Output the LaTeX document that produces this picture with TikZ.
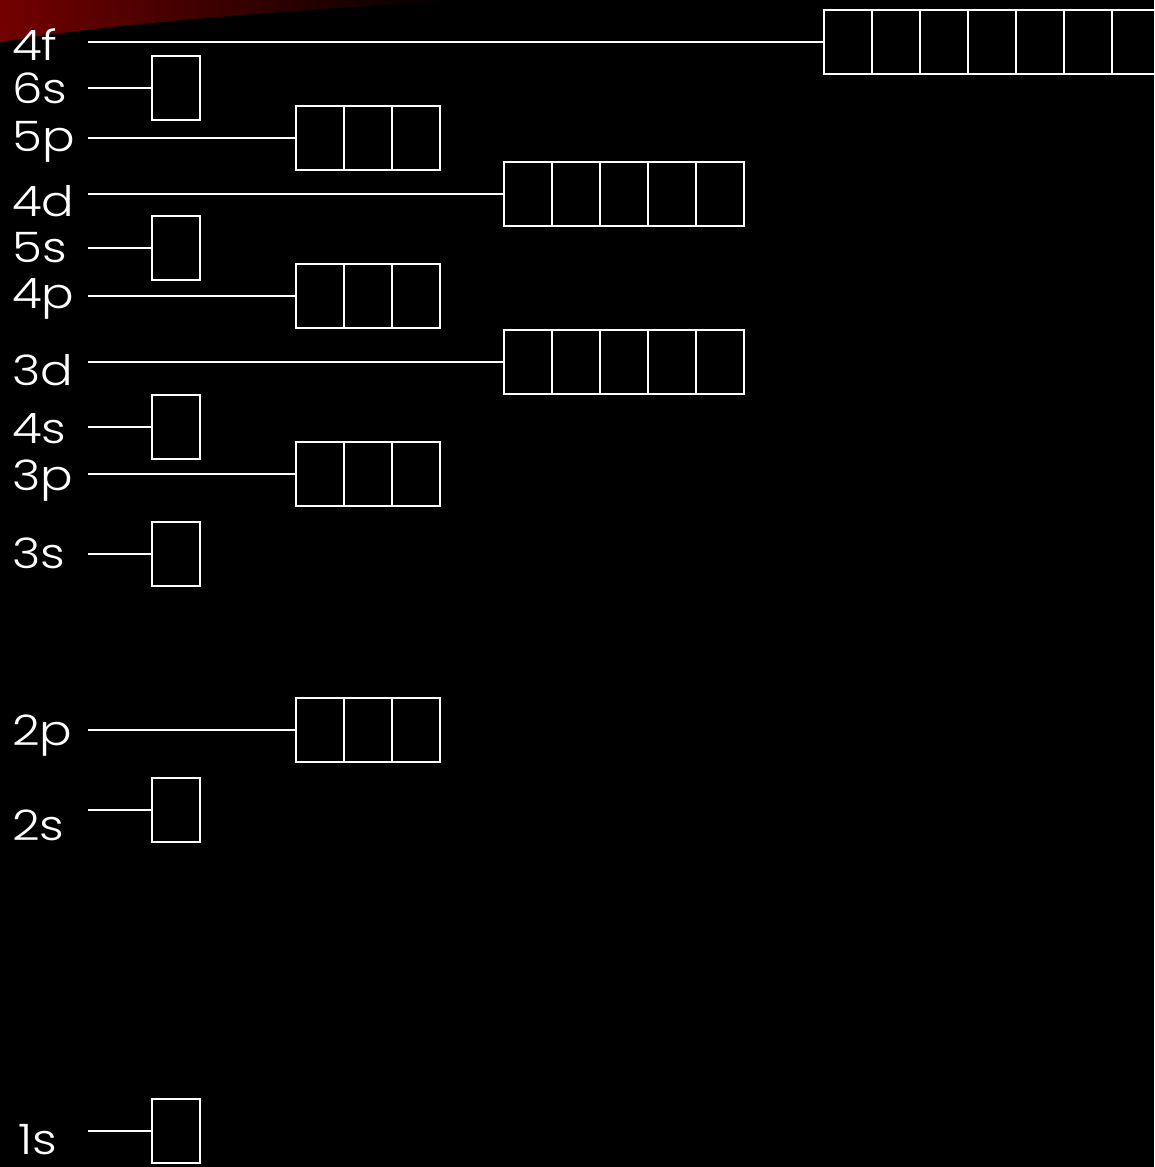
\documentclass[tikz,border=0pt]{standalone}
\usepackage{fontspec}
\setmainfont{Poppins}[UprightFont=* Light, FakeStretch=1.15]
\begin{document}
\begin{tikzpicture}[x=1pt,y=-1pt,
  orb/.style={draw=white,line width=2.5pt,minimum width=48pt,minimum height=64pt,inner sep=0pt,outer sep=0pt,anchor=west},
  ln/.style={draw=white,line width=2.5pt},
  lbl/.style={text=white,anchor=base west,inner sep=0pt,font=\fontsize{42}{42}\selectfont}]
\useasboundingbox (0,0) rectangle (1154,1167);
\fill[black] (0,0) rectangle (1154,1167);
\clip (0,0) rectangle (1154,1167);
\shade[left color=red!45!black, right color=black, middle color=red!22!black]
  (0,0) -- (460,0) .. controls (300,10) and (120,22) .. (0,42) -- cycle;
\foreach \lab/\nm/\y/\b/\n/\x/\lx in {
  4f/of/42/60/7/824/12,
  6s/osix/88/103/1/152/12,
  5p/pfive/138/151/3/296/12,
  4d/dfour/194/216/5/504/12,
  5s/sfive/248/262/1/152/12,
  4p/pfour/296/308/3/296/12,
  3d/dthree/362/385/5/504/12,
  4s/sfour/427/443/1/152/12,
  3p/pthree/474/490/3/296/12,
  3s/sthree/554/568/1/152/12,
  2p/ptwo/730/745/3/296/12,
  2s/stwo/810/840/1/152/12,
  1s/sone/1131/1154/1/152/18}{
  \node[lbl] (L\nm) at (\lx,\b) {\lab};
  \coordinate (S\nm) at (88,\y);
  \foreach \i in {1,...,\n}{
    \node[orb] (\nm\i) at ({\x+(\i-1)*48},\y) {};
  }
  \draw[ln] (S\nm) -- (\nm1.west);
}
\end{tikzpicture}
\end{document}
